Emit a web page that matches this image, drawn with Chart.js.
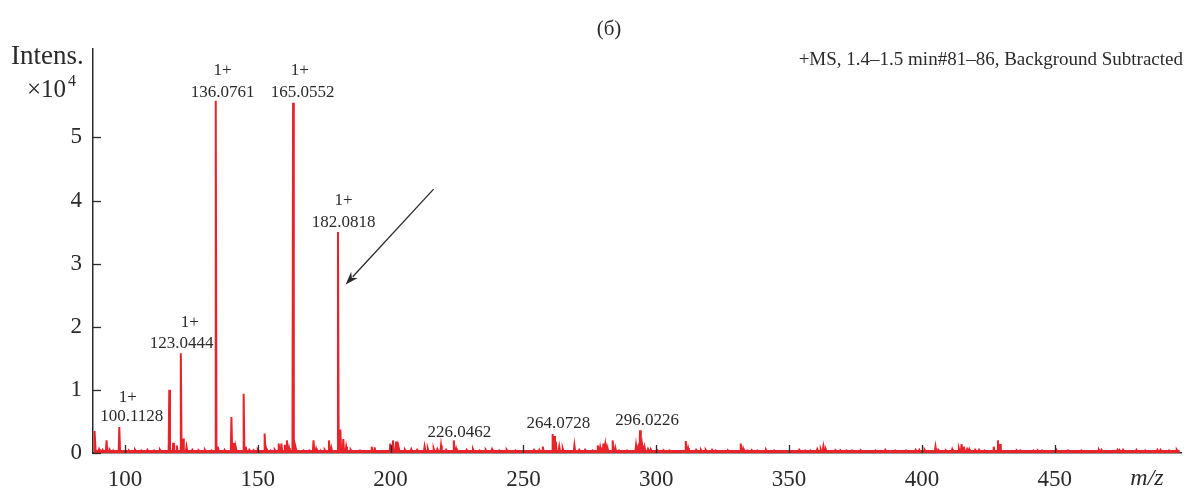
<!DOCTYPE html>
<html>
<head>
<meta charset="utf-8">
<script src="https://cdn.jsdelivr.net/npm/chart.js@4.4.1/dist/chart.umd.min.js"></script>
<style>
  html, body { margin: 0; padding: 0; background: #fff; }
  #wrap { width: 1187px; height: 490px; position: relative; }
</style>
</head>
<body>
<div id="wrap"><canvas id="c" width="1187" height="490"></canvas></div>
<script>
// ---- Data ----
const baseLevel = 0.03; // ×10^4
const peakMz = [
  88.7, 90.3, 91.6, 93.1, 94.3, 95.6, 97.9, 101.5, 103.8, 106.2, 108.5, 111.0, 113.2,
  116.7, 118.2, 119.5, 121.05, 121.9, 123.2, 125.4, 127.8, 130.1, 132.6, 134.2, 135.0,
  137.5, 140.1, 141.0, 141.8, 144.7, 145.5, 146.8, 148.5, 150.0, 152.6, 153.2, 154.8, 156.4,
  157.9, 158.9, 160.2, 161.0, 161.8, 163.3, 164.3, 167.2, 169.4, 171.0, 172.0, 173.6, 175.2,
  176.8, 177.7, 180.2, 181.1, 182.2, 183.3, 185.0, 188.5, 192.9, 194.0, 199.9, 200.9, 202.1,
  203.1, 205.4, 207.8, 210.0, 212.8, 214.0, 216.2, 217.6, 219.0, 220.9, 223.8, 224.7, 228.6,
  231.0, 233.5, 235.8, 238.2, 240.9, 243.7, 247.0, 254.0, 256.0, 257.3, 261.0, 261.6, 262.2,
  263.5, 264.8, 269.2, 271.0, 273.2, 276.0, 278.0, 278.9, 280.1, 280.8, 281.7, 283.6, 284.6,
  286.0, 289.0, 292.4, 293.4, 293.9, 294.7, 295.6, 296.9, 298.0, 300.5, 302.8, 305.0, 311.1,
  312.0, 315.0, 316.8, 318.6, 321.0, 322.3, 327.0, 331.8, 332.7, 334.2, 336.0, 338.0, 341.3,
  344.4, 353.8, 356.0, 358.0, 360.6, 361.9, 362.9, 363.8, 367.5, 369.4, 371.6, 373.7, 377.0,
  382.5, 386.2, 390.0, 394.0, 397.6, 399.0, 401.0, 405.1, 406.1, 409.0, 411.4, 413.9, 414.9,
  415.8, 417.0, 417.8, 420.0, 421.5, 423.5, 427.0, 428.6, 429.4, 435.7, 437.0, 442.0, 443.6,
  445.2, 450.6, 455.0, 460.0, 466.6, 467.6, 473.6, 474.3, 475.7, 480.7, 484.0, 488.6, 489.8,
  493.0, 495.9
];
const peakInt = [
  0.35, 0.06, 0.05, 0.20, 0.05, 0.04, 0.41, 0.04, 0.05, 0.04, 0.05, 0.04, 0.05,
  1.00, 0.16, 0.12, 1.58, 0.23, 0.10, 0.05, 0.04, 0.05, 0.04, 5.58, 0.10,
  0.05, 0.57, 0.16, 0.08, 0.94, 0.10, 0.05, 0.04, 0.05, 0.31, 0.07, 0.04, 0.05,
  0.15, 0.15, 0.13, 0.20, 0.08, 5.55, 0.08, 0.04, 0.04, 0.20, 0.07, 0.04, 0.05,
  0.20, 0.08, 3.50, 0.37, 0.22, 0.10, 0.05, 0.04, 0.10, 0.09, 0.15, 0.20, 0.18,
  0.08, 0.05, 0.06, 0.05, 0.10, 0.07, 0.07, 0.06, 0.12, 0.05, 0.20, 0.07, 0.05,
  0.06, 0.04, 0.05, 0.06, 0.04, 0.05, 0.04, 0.05, 0.05, 0.10, 0.30, 0.27, 0.18,
  0.10, 0.07, 0.12, 0.05, 0.05, 0.04, 0.12, 0.09, 0.15, 0.14, 0.07, 0.20, 0.08,
  0.04, 0.04, 0.12, 0.15, 0.36, 0.12, 0.09, 0.06, 0.05, 0.04, 0.04, 0.04, 0.19,
  0.08, 0.05, 0.05, 0.05, 0.05, 0.04, 0.04, 0.15, 0.07, 0.04, 0.04, 0.04, 0.05,
  0.04, 0.05, 0.04, 0.04, 0.06, 0.06, 0.10, 0.06, 0.04, 0.04, 0.04, 0.04, 0.04,
  0.04, 0.05, 0.04, 0.04, 0.05, 0.05, 0.05, 0.10, 0.05, 0.04, 0.06, 0.07, 0.14,
  0.10, 0.06, 0.06, 0.05, 0.05, 0.04, 0.10, 0.20, 0.14, 0.04, 0.04, 0.04, 0.04,
  0.04, 0.05, 0.04, 0.04, 0.05, 0.05, 0.05, 0.05, 0.05, 0.05, 0.04, 0.05, 0.05,
  0.04, 0.05
];
const xTickValues = [100, 150, 200, 250, 300, 350, 400, 450];
const yTickValues = [0, 1, 2, 3, 4, 5];

// Peak annotation labels
const labelText = ['136.0761', '165.0552', '182.0818', '123.0444', '100.1128', '226.0462', '264.0728', '296.0226'];
const labelX    = [136.8, 166.9, 182.3, 121.4, 102.6, 225.9, 263.2, 296.6];
const labelY    = [5.71, 5.71, 3.655, 1.74, 0.57, 0.33, 0.46, 0.52];
const chargeText = ['1+', '1+', '1+', '1+', '1+'];
const chargeX    = [136.8, 165.8, 182.3, 124.4, 101.1];
const chargeY    = [6.06, 6.06, 4.0, 2.06, 0.886];
// Arrow (from -> to) in data units
const arrowFrom = [216.2, 4.18];
const arrowTo   = [183.1, 2.67];

// ---- Build spectrum line from the peak lists ----
const spectrum = [{x: 88.4, y: baseLevel}];
peakMz.forEach((m, i) => {
  spectrum.push({x: m - 0.22, y: baseLevel});
  spectrum.push({x: m, y: peakInt[i]});
  spectrum.push({x: m + 0.28, y: baseLevel});
});
spectrum.push({x: 497, y: baseLevel});

const RED = '#e8232a';
const INK = '#2a2a2a';
const SERIF = '"Liberation Serif", "DejaVu Serif", serif';

const overlay = {
  id: 'overlay',
  afterDraw(chart) {
    const {ctx, scales: {x, y}, chartArea} = chart;
    ctx.save();
    // inward tick marks
    ctx.strokeStyle = INK;
    ctx.lineWidth = 1.3;
    xTickValues.forEach(v => {
      const px = Math.round(x.getPixelForValue(v)) + 0.5;
      ctx.beginPath(); ctx.moveTo(px, chartArea.bottom); ctx.lineTo(px, chartArea.bottom - 8); ctx.stroke();
    });
    yTickValues.forEach(v => {
      const py = Math.round(y.getPixelForValue(v)) + 0.5;
      ctx.beginPath(); ctx.moveTo(chartArea.left, py); ctx.lineTo(chartArea.left + 8, py); ctx.stroke();
    });

    // peak labels
    ctx.fillStyle = INK;
    ctx.font = '17px ' + SERIF;
    ctx.textAlign = 'center';
    ctx.textBaseline = 'middle';
    labelText.forEach((t, i) => ctx.fillText(t, x.getPixelForValue(labelX[i]), y.getPixelForValue(labelY[i])));
    chargeText.forEach((t, i) => ctx.fillText(t, x.getPixelForValue(chargeX[i]), y.getPixelForValue(chargeY[i])));

    // arrow
    const x1 = x.getPixelForValue(arrowFrom[0]), y1 = y.getPixelForValue(arrowFrom[1]);
    const x2 = x.getPixelForValue(arrowTo[0]), y2 = y.getPixelForValue(arrowTo[1]);
    const ang = Math.atan2(y2 - y1, x2 - x1);
    const hl = 13, hw = 4.5;
    ctx.strokeStyle = INK;
    ctx.lineWidth = 1.3;
    ctx.beginPath();
    ctx.moveTo(x1, y1);
    ctx.lineTo(x2 - Math.cos(ang) * hl * 0.8, y2 - Math.sin(ang) * hl * 0.8);
    ctx.stroke();
    ctx.beginPath();
    ctx.moveTo(x2, y2);
    ctx.lineTo(x2 - Math.cos(ang) * hl - Math.sin(ang) * hw, y2 - Math.sin(ang) * hl + Math.cos(ang) * hw);
    ctx.lineTo(x2 - Math.cos(ang) * hl * 0.7, y2 - Math.sin(ang) * hl * 0.7);
    ctx.lineTo(x2 - Math.cos(ang) * hl + Math.sin(ang) * hw, y2 - Math.sin(ang) * hl - Math.cos(ang) * hw);
    ctx.closePath();
    ctx.fillStyle = INK;
    ctx.fill();

    // static texts
    ctx.fillStyle = INK;
    ctx.textAlign = 'center';
    ctx.font = '21px ' + SERIF;
    ctx.fillText('(б)', 609, 29);

    ctx.textAlign = 'left';
    ctx.textBaseline = 'alphabetic';
    ctx.font = '27px ' + SERIF;
    ctx.fillText('Intens.', 11, 64);
    ctx.font = '25px ' + SERIF;
    ctx.fillText('×10', 27, 97);
    ctx.font = '16px ' + SERIF;
    ctx.fillText('4', 68, 86);

    ctx.textAlign = 'right';
    ctx.textBaseline = 'middle';
    ctx.font = '19px ' + SERIF;
    ctx.fillText('+MS, 1.4\u20131.5 min#81\u201386, Background Subtracted', 1183, 60);

    ctx.textAlign = 'center';
    ctx.font = 'italic 24px ' + SERIF;
    ctx.fillText('m/z', 1147, 479);
    ctx.restore();
  }
};

new Chart(document.getElementById('c'), {
  type: 'line',
  data: {
    datasets: [{
      data: spectrum,
      borderColor: RED,
      backgroundColor: RED,
      borderWidth: 2,
      fill: 'origin',
      pointRadius: 0,
      tension: 0
    }]
  },
  options: {
    responsive: false,
    animation: false,
    devicePixelRatio: 1,
    layout: { padding: { left: 0, top: 49, right: 6, bottom: 0 } },
    plugins: { legend: { display: false }, tooltip: { enabled: false }, title: { display: false } },
    scales: {
      x: {
        type: 'linear',
        min: 88,
        max: 497.5,
        grid: { display: false, drawTicks: false },
        border: { display: true, color: INK, width: 1.5 },
        afterBuildTicks: s => { s.ticks = xTickValues.map(v => ({value: v})); },
        afterFit: s => { s.height = 37; },
        ticks: { color: INK, font: { family: SERIF, size: 23 }, padding: 13, maxRotation: 0, autoSkip: false }
      },
      y: {
        type: 'linear',
        min: 0,
        max: 6.4,
        grid: { display: false, drawTicks: false },
        border: { display: true, color: INK, width: 1.5 },
        afterBuildTicks: s => { s.ticks = yTickValues.map(v => ({value: v})); },
        afterFit: s => { s.width = 93; },
        ticks: { color: INK, font: { family: SERIF, size: 23 }, padding: 11 }
      }
    }
  },
  plugins: [overlay]
});
</script>
</body>
</html>
